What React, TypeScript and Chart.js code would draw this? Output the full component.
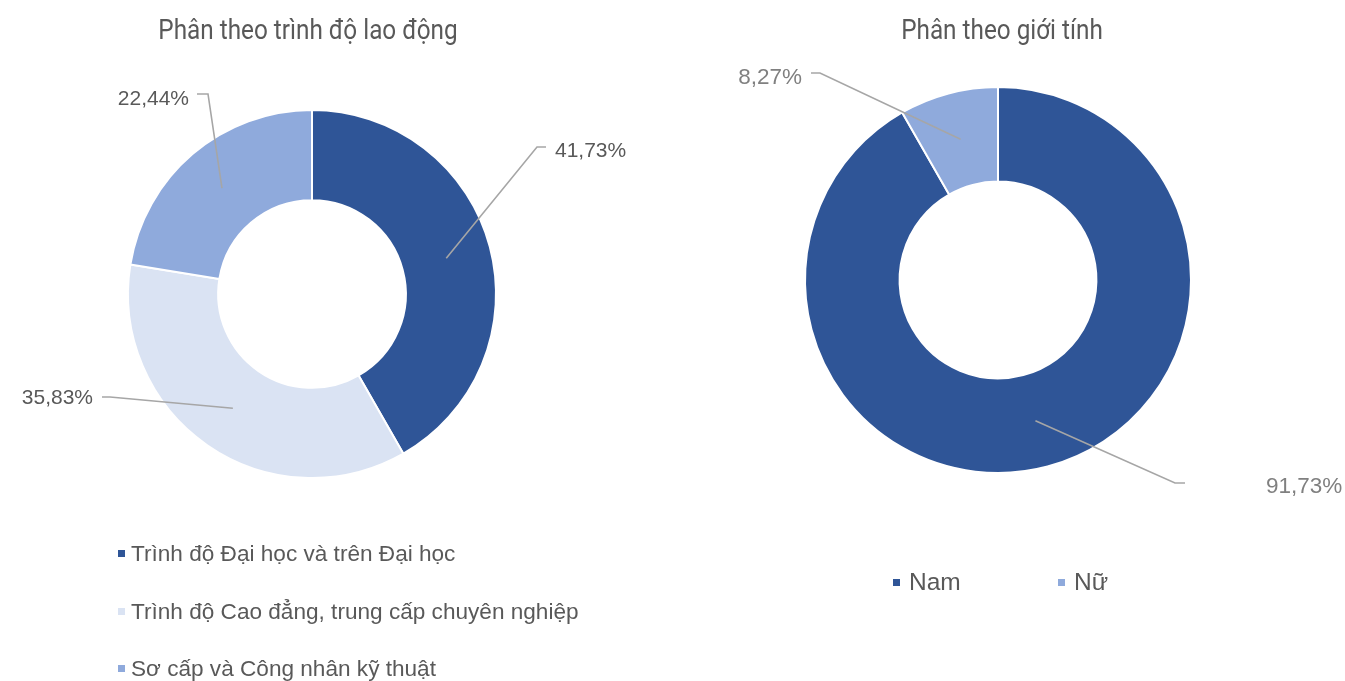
import React, { useEffect, useRef } from "react";
import { Chart, registerables } from "chart.js";

Chart.register(...registerables);

// ---------- data ----------
const levelTitle = "Phân theo trình độ lao động";
const levelLabels = [
  "Trình độ Đại học và trên Đại học",
  "Trình độ Cao đẳng, trung cấp chuyên nghiệp",
  "Sơ cấp và Công nhân kỹ thuật",
];
const levelValues = [41.73, 35.83, 22.44];

const genderTitle = "Phân theo giới tính";
const genderLabels = ["Nam", "Nữ"];
const genderValues = [91.73, 8.27];

// ---------- styles ----------
const levelColors = ["#2F5597", "#DAE3F3", "#8FAADC"];
const genderColors = ["#2F5597", "#8FAADC"];

// callout layout: elbow (ex, ey) and text anchor (tx, ty) relative to chart centre
const levelCallouts = [
  { ex: 225, ey: -147, side: 1, tail: 9, tx: 243, ty: -145 },
  { ex: -202, ey: 103, side: -1, tail: 8, tx: -219, ty: 102 },
  { ex: -104, ey: -200, side: -1, tail: 11, tx: -123, ty: -197 },
];
const genderCallouts = [
  { ex: 177, ey: 203, side: 1, tail: 10, tx: 268, ty: 205 },
  { ex: -178, ey: -207, side: -1, tail: 9, tx: -196, ty: -204 },
];

const fmt = (v: number) => v.toFixed(2).replace(".", ",") + "%";

const calloutPlugin = {
  id: "callouts",
  afterDatasetsDraw(chart: any, _args: any, opts: any) {
    const { ctx } = chart;
    const meta = chart.getDatasetMeta(0);
    const values = chart.data.datasets[0].data as number[];
    ctx.save();
    meta.data.forEach((arc: any, i: number) => {
      const p = arc.getProps(
        ["x", "y", "startAngle", "endAngle", "innerRadius", "outerRadius"],
        true
      );
      const c = opts.layout[i];
      if (!c) return;
      const mid = (p.startAngle + p.endAngle) / 2;
      const r = (p.innerRadius + p.outerRadius) / 2;
      const sx = p.x + Math.cos(mid) * r;
      const sy = p.y + Math.sin(mid) * r;
      const ex = p.x + c.ex;
      const ey = p.y + c.ey;
      ctx.strokeStyle = "#A6A6A6";
      ctx.lineWidth = 1.6;
      ctx.beginPath();
      ctx.moveTo(sx, sy);
      ctx.lineTo(ex, ey);
      ctx.lineTo(ex + c.side * c.tail, ey);
      ctx.stroke();
      ctx.font = `${opts.fontSize}px "Liberation Sans", Arial, sans-serif`;
      ctx.fillStyle = opts.color;
      ctx.textAlign = c.side > 0 ? "left" : "right";
      ctx.textBaseline = "alphabetic";
      ctx.fillText(
        fmt(values[i]),
        p.x + c.tx,
        p.y + c.ty + (0.716 * opts.fontSize) / 2
      );
    });
    ctx.restore();
  },
};

type DonutProps = {
  left: number;
  width: number;
  height: number;
  padding: { left: number; top: number; right: number; bottom: number };
  labels: string[];
  values: number[];
  colors: string[];
  callouts: any[];
  fontSize: number;
  labelColor: string;
};

function Donut(props: DonutProps) {
  const ref = useRef<HTMLCanvasElement>(null);
  useEffect(() => {
    if (!ref.current) return;
    const chart = new Chart(ref.current, {
      type: "doughnut",
      data: {
        labels: props.labels,
        datasets: [
          {
            data: props.values,
            backgroundColor: props.colors,
            borderColor: "#FFFFFF",
            borderWidth: 2,
            hoverOffset: 0,
            offset: 0,
          } as any,
        ],
      },
      options: {
        responsive: false,
        maintainAspectRatio: false,
        animation: false,
        events: [],
        cutout: "51%",
        layout: { padding: props.padding },
        plugins: {
          legend: { display: false },
          title: { display: false },
          tooltip: { enabled: false },
          callouts: {
            layout: props.callouts,
            fontSize: props.fontSize,
            color: props.labelColor,
          },
        } as any,
      },
      plugins: [calloutPlugin],
    });
    return () => chart.destroy();
  }, []);
  return (
    <canvas
      ref={ref}
      width={props.width}
      height={props.height}
      style={{
        position: "absolute",
        left: props.left,
        top: 0,
        width: props.width,
        height: props.height,
        display: "block",
      }}
    />
  );
}

const titleStyle = (cx: number): React.CSSProperties => ({
  position: "absolute",
  left: cx - 250,
  top: 10,
  width: 500,
  height: 40,
  lineHeight: "40px",
  textAlign: "center",
  fontFamily: "Roboto, sans-serif",
  fontSize: 27,
  color: "#595959",
  transform: "scaleX(0.9)",
  whiteSpace: "nowrap",
});

const Swatch = ({ color }: { color: string }) => (
  <span
    style={{
      display: "inline-block",
      width: 7,
      height: 7,
      background: color,
      marginRight: 6,
      flex: "none",
    }}
  />
);

export default function App() {
  return (
    <div
      style={{
        position: "fixed",
        left: 0,
        top: 0,
        width: 1345,
        height: 681,
        background: "#FFFFFF",
        overflow: "hidden",
      }}
    >
      <Donut
        left={0}
        width={660}
        height={681}
        padding={{ left: 127, top: 109, right: 163, bottom: 202 }}
        labels={levelLabels}
        values={levelValues}
        colors={levelColors}
        callouts={levelCallouts}
        fontSize={21}
        labelColor="#595959"
      />
      <Donut
        left={660}
        width={685}
        height={681}
        padding={{ left: 144, top: 86, right: 153, bottom: 207 }}
        labels={genderLabels}
        values={genderValues}
        colors={genderColors}
        callouts={genderCallouts}
        fontSize={22.5}
        labelColor="#808080"
      />
      <div style={titleStyle(308)}>{levelTitle}</div>
      <div style={titleStyle(1002)}>{genderTitle}</div>

      <div
        style={{
          position: "absolute",
          left: 118,
          top: 525,
          display: "flex",
          flexDirection: "column",
          fontFamily: '"Liberation Sans", Arial, sans-serif',
          fontSize: 22.6,
          color: "#595959",
        }}
      >
        {levelLabels.map((l, i) => (
          <div
            key={l}
            style={{
              height: 57.5,
              lineHeight: "57.5px",
              display: "flex",
              alignItems: "center",
              whiteSpace: "nowrap",
            }}
          >
            <Swatch color={levelColors[i]} />
            <span>{l}</span>
          </div>
        ))}
      </div>

      <div
        style={{
          position: "absolute",
          left: 893,
          top: 562,
          display: "flex",
          flexDirection: "row",
          fontFamily: '"Liberation Sans", Arial, sans-serif',
          fontSize: 24.5,
          color: "#595959",
        }}
      >
        {genderLabels.map((l, i) => (
          <div
            key={l}
            style={{
              width: 165,
              height: 40,
              lineHeight: "40px",
              display: "flex",
              alignItems: "center",
              whiteSpace: "nowrap",
            }}
          >
            <Swatch color={genderColors[i]} />
            <span style={{ marginLeft: 3 }}>{l}</span>
          </div>
        ))}
      </div>
    </div>
  );
}
